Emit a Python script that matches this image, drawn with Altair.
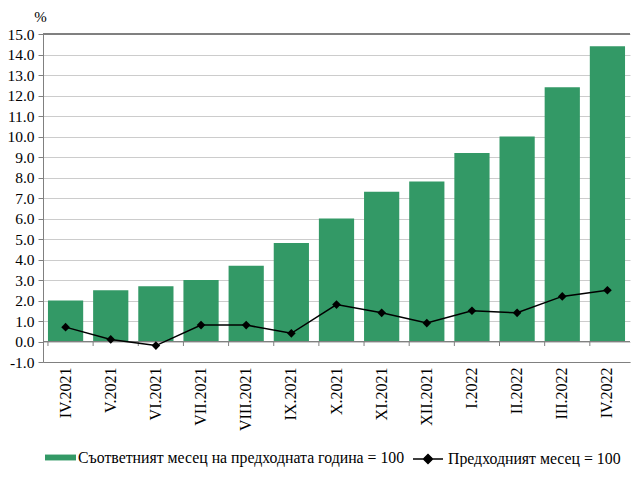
import altair as alt
import pandas as pd

months = ["IV.2021", "V.2021", "VI.2021", "VII.2021", "VIII.2021", "IX.2021", "X.2021",
          "XI.2021", "XII.2021", "I.2022", "II.2022", "III.2022", "IV.2022"]
yoy = [2.0, 2.5, 2.7, 3.0, 3.7, 4.8, 6.0, 7.3, 7.8, 9.2, 10.0, 12.4, 14.4]
mom = [0.7, 0.1, -0.2, 0.8, 0.8, 0.4, 1.8, 1.4, 0.9, 1.5, 1.4, 2.2, 2.5]
y_ticks = [-1.0, 0.0, 1.0, 2.0, 3.0, 4.0, 5.0, 6.0, 7.0, 8.0, 9.0, 10.0, 11.0, 12.0, 13.0, 14.0, 15.0]

label_bar = "Съответният месец на предходната година = 100"
label_line = "Предходният месец = 100"

df = pd.DataFrame({"month": months, "yoy": yoy, "mom": mom,
                   "s1": [label_bar] * len(months), "s2": [label_line] * len(months)})

FONT = "Liberation Serif"
GREEN = "#339966"

x_scale = alt.Scale(paddingInner=0.22, paddingOuter=0.11)
x_axis = alt.Axis(title=None, labelAngle=-90, ticks=False, labelPadding=5,
                  domainColor="#808080", labelFont=FONT, labelFontSize=16,
                  labelColor="black", grid=False, labelOverlap=False)
y_scale = alt.Scale(domain=[-1, 15], nice=False, zero=False)
y_axis = alt.Axis(values=y_ticks, format=".1f",
                  labelExpr="replace(datum.label, '\u2212', '-')",
                  labelOverlap=False, labelBound=False,
                  title="%", titleAngle=0,
                  titleX=-3, titleY=-18, titleAlign="center", titleBaseline="middle",
                  titleFont=FONT,
                  titleFontSize=15, titleFontWeight="normal", titleColor="black",
                  labelFont=FONT, labelFontSize=15.5, labelColor="black",
                  tickSize=5, tickColor="#808080", domainColor="#808080",
                  labelPadding=4, gridColor="#cccccc")

base = alt.Chart(df)

bars = base.mark_bar(color=GREEN).encode(
    x=alt.X("month:N", sort=months, scale=x_scale, axis=x_axis),
    y=alt.Y("yoy:Q", scale=y_scale, axis=y_axis, title="%"),
    fill=alt.Fill("s1:N", scale=alt.Scale(range=[GREEN]),
                  legend=alt.Legend(title=None, orient="none", legendX=2, legendY=408,
                                    symbolType="M-1,-0.19H1V0.19H-1Z", symbolSize=961,
                                    symbolStrokeWidth=0, labelFont=FONT, labelFontSize=15.8,
                                    labelColor="black", labelOffset=2, padding=0,
                                    labelLimit=0)),
)

zero_rule = base.mark_rule(color="#808080").encode(
    y=alt.Y(datum=0, scale=y_scale, axis=y_axis, title="%")
)
top_rule = base.mark_rule(color="#808080").encode(
    y=alt.Y(datum=15, scale=y_scale, axis=y_axis, title="%")
)
tick_rules = base.mark_rule(color="#808080").encode(
    x=alt.X("month:N", sort=months, bandPosition=0, scale=x_scale, axis=x_axis),
    y=alt.Y(datum=0, scale=y_scale, axis=y_axis, title="%"), y2=alt.datum(-0.22)
)

line = base.mark_line(color="black", strokeWidth=1.5).encode(
    x=alt.X("month:N", sort=months, scale=x_scale, axis=x_axis),
    y=alt.Y("mom:Q", scale=y_scale, axis=y_axis, title="%"),
    stroke=alt.Stroke("s2:N", scale=alt.Scale(range=["black"]),
                      legend=alt.Legend(title=None, orient="none", legendX=369, legendY=409,
                                        symbolType="M-1,0H1M-0.3,0L0,-0.3L0.3,0L0,0.3Z",
                                        symbolSize=900, symbolFillColor="black",
                                        symbolStrokeWidth=1.5, labelFont=FONT,
                                        labelFontSize=15.8, labelColor="black",
                                        labelOffset=4, padding=0, labelLimit=0)),
)
points = base.mark_point(shape="diamond", filled=True, color="black", size=75,
                         opacity=1).encode(
    x=alt.X("month:N", sort=months, scale=x_scale, axis=x_axis),
    y=alt.Y("mom:Q", scale=y_scale, axis=y_axis, title="%"),
)

chart = alt.layer(bars, zero_rule, top_rule, tick_rules, line, points).properties(
    width=587, height=328,
    autosize=alt.AutoSizeParams(type="none"),
    padding={"left": 35, "top": 26, "right": 2, "bottom": 105},
).configure_view(stroke=None).configure_axisY(labelOverlap=False)

chart.save("out.html", embed_options={"renderer": "svg", "actions": False})
